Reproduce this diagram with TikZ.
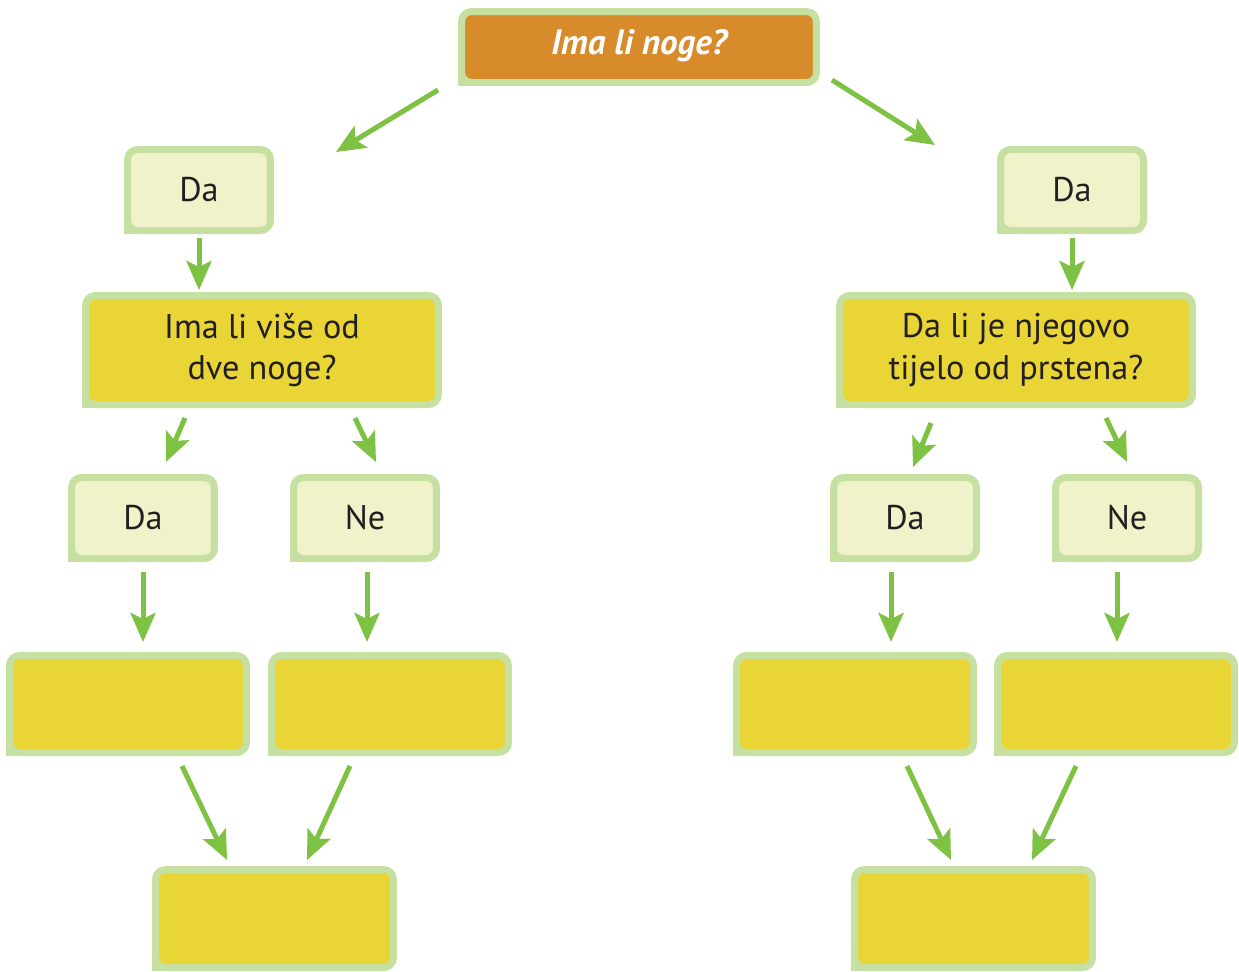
\documentclass[tikz,border=0pt]{standalone}
\usepackage{fontspec}
\setmainfont{PT Sans}
\usetikzlibrary{arrows.meta, calc}

\definecolor{leafedge}{HTML}{C5E0A0}
\definecolor{stem}{HTML}{7DC242}
\definecolor{paleleaf}{HTML}{F0F2CA}
\definecolor{yolk}{HTML}{E9D536}
\definecolor{amber}{HTML}{D88B2A}
\definecolor{inkgray}{HTML}{231F20}

\tikzset{
  box/.style={draw=leafedge, line width=0.14cm, rounded corners=0.2cm, inner sep=0pt,
    text=inkgray, align=center, font=\fontsize{19.5}{23.5}\selectfont},
  topbox/.style={box, fill=amber, minimum width=7.1cm, minimum height=1.42cm,
    text=white, font=\fontsize{20}{24}\selectfont\bfseries\itshape},
  ansbox/.style={box, fill=paleleaf, minimum width=2.86cm, minimum height=1.62cm},
  qbox/.style={box, fill=yolk, minimum width=7.06cm, minimum height=2.18cm},
  blankbox/.style={box, fill=yolk, minimum width=4.74cm, minimum height=1.94cm},
  arr/.style={-{Stealth[length=0.58cm, width=0.5cm, inset=0.12cm]}, stem, line width=0.1cm}
}

\begin{document}
\begin{tikzpicture}[x=0.02cm, y=-0.02cm]
  \useasboundingbox (0,0) rectangle (1239,971);

  % question on top
  \node[topbox] (top) at (639,47) {\raisebox{6pt}{Ima li noge?}};

  % left branch
  \node[ansbox] (daL) at (199,190) {Da};
  \node[qbox] (qL) at (262,350) {Ima li više od\\dve noge?};
  \node[ansbox] (daLL) at (143,518) {Da};
  \node[ansbox] (neLR) at (365,518) {Ne};
  \node[blankbox] (eLL) at (128,704) {};
  \node[blankbox] (eLR) at (390,704) {};
  \node[blankbox, minimum width=4.76cm, minimum height=1.96cm] (bL) at (274.5,918.5) {};

  % right branch
  \node[ansbox] (daR) at (1072,190) {Da};
  \node[qbox] (qR) at (1016,350) {Da li je njegovo\\tijelo od prstena?};
  \node[ansbox] (daRL) at (905,518) {Da};
  \node[ansbox] (neRR) at (1127,518) {Ne};
  \node[blankbox] (eRL) at (855,704) {};
  \node[blankbox] (eRR) at (1116,704) {};
  \node[blankbox, minimum width=4.76cm, minimum height=1.96cm] (bR) at (973.5,918.5) {};

  % square lower left corners
  \foreach \n in {top,daL,qL,daLL,neLR,eLL,eLR,bL,daR,qR,daRL,neRR,eRL,eRR,bR}{
    \fill[leafedge] (\n.south west) rectangle ++(7,-13.5);
    \fill[leafedge] (\n.south west) rectangle ++(13.5,-7);
  }

  % arrows
  \draw[arr] ($(top.south west)+(-20,4)$) -- ($(daL.north east)+(62,6)$);
  \draw[arr] ($(top.south east)+(12,-6)$) -- ($(daR.north west)+(-62,-1)$);
  \draw[arr] ($(daL.south)+(0,4)$) -- ($(daL.south |- qL.north)+(0,-2)$);
  \draw[arr] ($(daR.south)+(0,4)$) -- ($(daR.south |- qR.north)+(0,-2)$);
  \draw[arr] ($(qL.south)+(-77,10)$) -- ($(daLL.north)+(23,-12)$);
  \draw[arr] ($(qL.south)+(93,10)$) -- ($(neLR.north)+(11,-12)$);
  \draw[arr] ($(qR.south)+(-85,15)$) -- ($(daRL.north)+(8,-7)$);
  \draw[arr] ($(qR.south)+(90,10)$) -- ($(neRR.north)+(0,-12)$);
  \draw[arr] ($(daLL.south)+(0,10)$) -- ($(daLL.south |- eLL.north)+(0,-10)$);
  \draw[arr] ($(neLR.south)+(2,10)$) -- ($(neLR.south |- eLR.north)+(2,-10)$);
  \draw[arr] ($(daRL.south)+(-14,10)$) -- ($(daRL.south |- eRL.north)+(-14,-10)$);
  \draw[arr] ($(neRR.south)+(-10,10)$) -- ($(neRR.south |- eRR.north)+(-10,-10)$);
  \draw[arr] ($(eLL.south)+(54,10)$) -- ($(bL.north)+(-47.5,-6)$);
  \draw[arr] ($(eLR.south)+(-40,10)$) -- ($(bL.north)+(32.5,-6)$);
  \draw[arr] ($(eRL.south)+(52,10)$) -- ($(bR.north)+(-22.5,-6)$);
  \draw[arr] ($(eRR.south)+(-40,10)$) -- ($(bR.north)+(58.5,-6)$);
\end{tikzpicture}
\end{document}
